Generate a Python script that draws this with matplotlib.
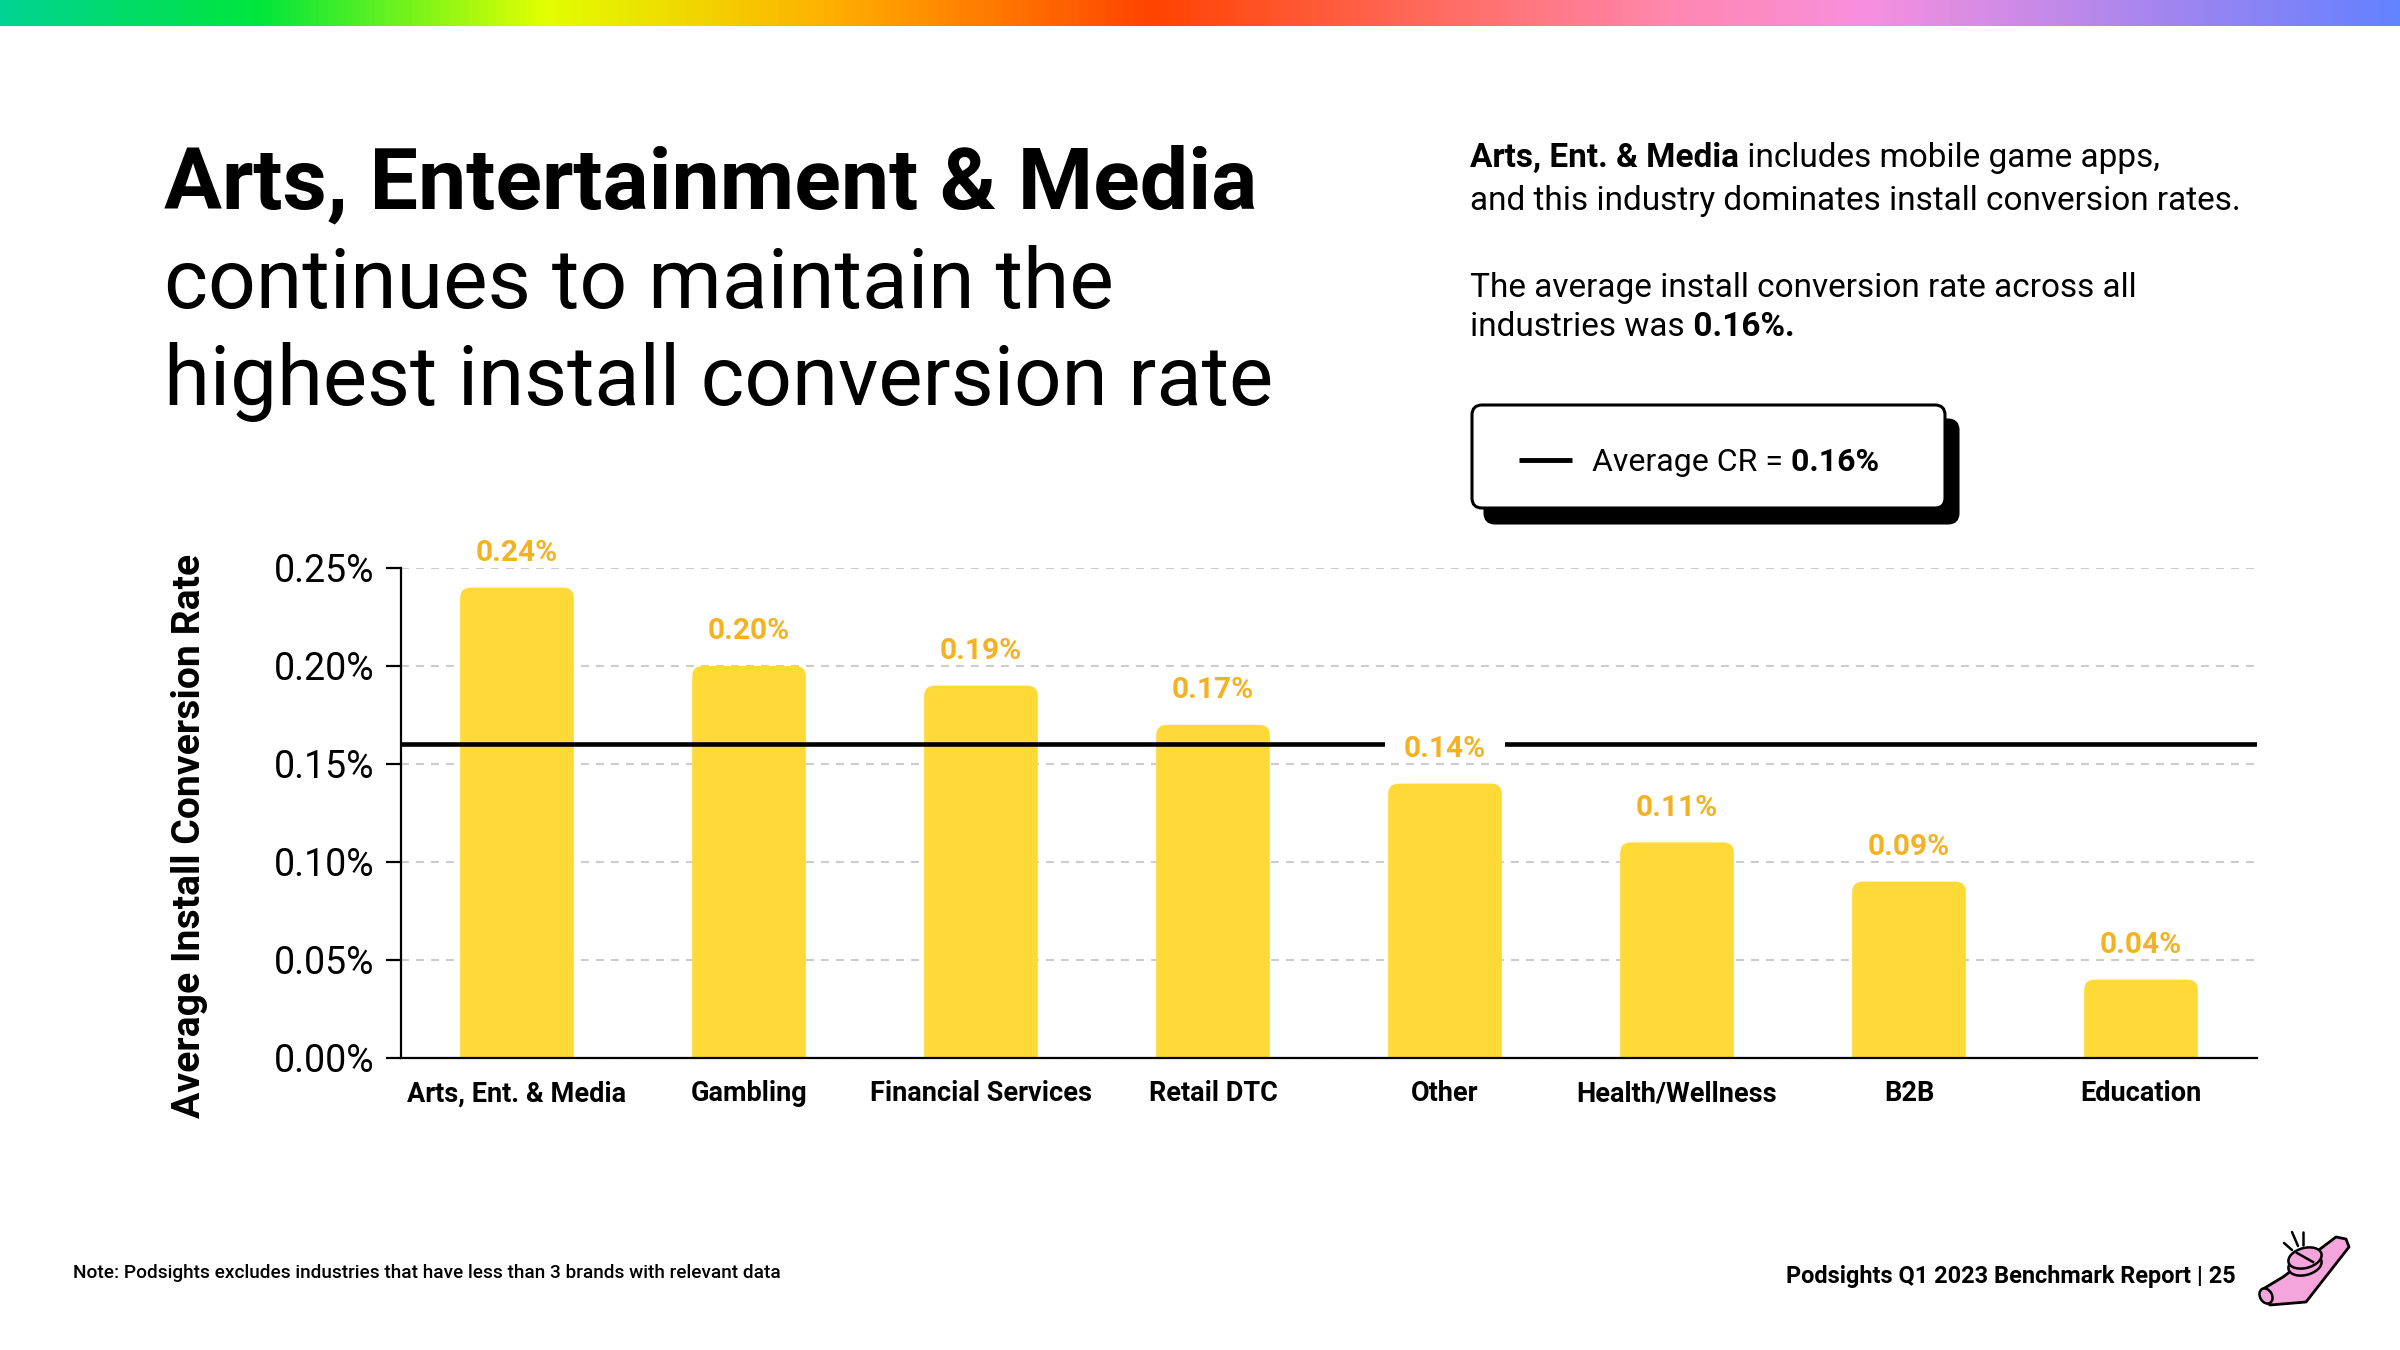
import numpy as np
import matplotlib
matplotlib.use("Agg")
import matplotlib.pyplot as plt
from matplotlib.colors import LinearSegmentedColormap
from matplotlib.patches import FancyBboxPatch, Rectangle, Polygon, Ellipse

# Data
categories = ["Arts, Ent. & Media", "Gambling", "Financial Services", "Retail DTC",
              "Other", "Health/Wellness", "B2B", "Education"]
values = [0.24, 0.20, 0.19, 0.17, 0.14, 0.11, 0.09, 0.04]
average_cr = 0.16
y_ticks = [0.00, 0.05, 0.10, 0.15, 0.20, 0.25]

# Colours
BAR = "#FFDA36"
LABEL = "#F4B223"
GRID = "#CCCCCC"
PINK = "#F4A6DC"
rainbow = [(0.0, "#00D392"), (0.107, "#00E63C"), (0.226, "#E2FF00"),
           (0.345, "#FFB000"), (0.48, "#FF4300"), (0.606, "#FF6E66"),
           (0.70, "#FF88B2"), (0.778, "#F890DE"), (0.90, "#A586EE"),
           (1.0, "#6481FF")]

plt.rcParams["font.family"] = ["Roboto", "DejaVu Sans"]

W, H = 2400, 1350
fig = plt.figure(figsize=(W / 100, H / 100), dpi=100)

# full-figure layer in pixel coordinates for the slide decoration
deco = fig.add_axes([0, 0, 1, 1], zorder=0)
deco.set_xlim(0, W)
deco.set_ylim(H, 0)
deco.axis("off")

# top rainbow strip
grad = fig.add_axes([0, 1 - 26 / H, 1, 26 / H], zorder=2)
cmap = LinearSegmentedColormap.from_list("podsights", rainbow)
grad.imshow(np.linspace(0, 1, 1024)[None, :], aspect="auto", cmap=cmap)
grad.axis("off")

# main chart
ax = fig.add_axes([401 / W, 1 - 1058 / H, (2257 - 401) / W, (1058 - 568) / H], zorder=1)
ax.set_facecolor("none")
x = np.arange(len(categories))
ax.set_xlim(-0.5, len(categories) - 0.5)
ax.set_ylim(0, 0.25)

bars = ax.bar(x, values, width=0.49, color=BAR, zorder=2)
# rounded tops: replace the plain bars with round boxes (bottom corners clipped by the axis)
px_x = ax.get_position().width * W / (len(categories))
px_y = ax.get_position().height * H / 0.25
for b in bars:
    b.set_visible(False)
    ax.add_patch(FancyBboxPatch((b.get_x(), -0.01), b.get_width(), b.get_height() + 0.01,
                                boxstyle="round,pad=0,rounding_size=0.045",
                                mutation_aspect=px_x / px_y,
                                fc=BAR, ec="none", zorder=2))

ax.axhline(average_cr, color="black", lw=3.3, zorder=3)

label_off = 25  # points above bar top
for i, v in enumerate(values):
    ax.annotate(f"{v:.2f}%", (i, v), xytext=(0, label_off), textcoords="offset points",
                ha="center", va="center", color=LABEL, fontsize=21.5, fontweight="bold",
                zorder=5, annotation_clip=False)
    # cut the average line where a label sits on it
    if abs(v + label_off * 100 / 72 / px_y - average_cr) < 0.01:
        ax.add_patch(Rectangle((i - 0.26, average_cr - 0.004), 0.52, 0.008,
                               fc="white", ec="none", zorder=4))

ax.set_yticks(y_ticks)
ax.set_yticklabels([f"{t:.2f}%" for t in y_ticks])
ax.set_xticks(x)
ax.set_xticklabels(categories, fontweight="bold")
ax.tick_params(axis="y", length=11, width=1.6, pad=8, labelsize=27, color="black")
ax.tick_params(axis="x", length=0, pad=16, labelsize=19.5)
for s in ["top", "right"]:
    ax.spines[s].set_visible(False)
for s in ["left", "bottom"]:
    ax.spines[s].set_linewidth(1.6)
ax.yaxis.grid(True, color=GRID, lw=1.5, linestyle=(0, (3.8, 3.4)))
ax.set_axisbelow(True)

ax.set_ylabel("Average Install Conversion Rate", fontsize=28.2, fontweight="bold")
ax.yaxis.set_label_coords(-0.104, 0.453)

# headline
deco.text(164, 208, "Arts, Entertainment & Media", fontsize=62, fontweight="bold", va="baseline")
deco.text(164, 308, "continues to maintain the", fontsize=60.5, va="baseline")
deco.text(164, 405, "highest install conversion rate", fontsize=60, va="baseline")

renderer = fig.canvas.get_renderer()


def mixed_line(x0, y0, parts, size):
    # runs of text with different weights on one baseline
    for s, w in parts:
        t = deco.text(x0, y0, s, fontsize=size, fontweight=w, va="baseline")
        x0 += t.get_window_extent(renderer).width


mixed_line(1470, 167, [("Arts, Ent. & Media", "bold"), (" includes mobile game apps,", "normal")], 24)
mixed_line(1470, 210, [("and this industry dominates install conversion rates.", "normal")], 24)
mixed_line(1470, 297, [("The average install conversion rate across all", "normal")], 24)
mixed_line(1470, 336, [("industries was", "normal"), (" 0.16%.", "bold")], 24)

# legend box with offset shadow
deco.add_patch(FancyBboxPatch((1485, 420), 473, 103, boxstyle="round,pad=0,rounding_size=10",
                              fc="black", ec="black", lw=2.2))
deco.add_patch(FancyBboxPatch((1472, 405), 473, 103, boxstyle="round,pad=0,rounding_size=10",
                              fc="white", ec="black", lw=2.2))
deco.plot([1519, 1572], [460, 460], color="black", lw=3.5, solid_capstyle="butt")
mixed_line(1592, 471, [("Average CR =", "normal"), (" 0.16%", "bold")], 23)

# footer
deco.text(73, 1278, "Note: Podsights excludes industries that have less than 3 brands with relevant data",
          fontsize=13.7, fontweight="medium", va="baseline")
deco.text(2236, 1283, "Podsights Q1 2023 Benchmark Report | 25", fontsize=16.9,
          fontweight="bold", ha="right", va="baseline")

# kazoo logo
deco.add_patch(Polygon([(2263, 1289), (2283, 1277), (2336, 1237), (2346, 1239), (2349, 1247),
                        (2306, 1302), (2270, 1305), (2261, 1298)], closed=True,
                       fc=PINK, ec="black", lw=2, joinstyle="round"))
deco.add_patch(Ellipse((2266, 1296), 12, 16, angle=-30, fc=PINK, ec="black", lw=1.8))
deco.add_patch(Ellipse((2305, 1265), 34, 20, angle=-15, fc=PINK, ec="black", lw=1.8))
deco.add_patch(Ellipse((2305, 1258), 34, 20, angle=-15, fc=PINK, ec="black", lw=1.8))
deco.plot([2297, 2313], [1253, 1262], color="black", lw=1.8)
for xs, ys in [([2284, 2292], [1243, 1250]), ([2292, 2298], [1232, 1246]), ([2303, 2303], [1232, 1245])]:
    deco.plot(xs, ys, color="black", lw=1.8, solid_capstyle="round")

fig.savefig("out.png", dpi=100, facecolor="white")
